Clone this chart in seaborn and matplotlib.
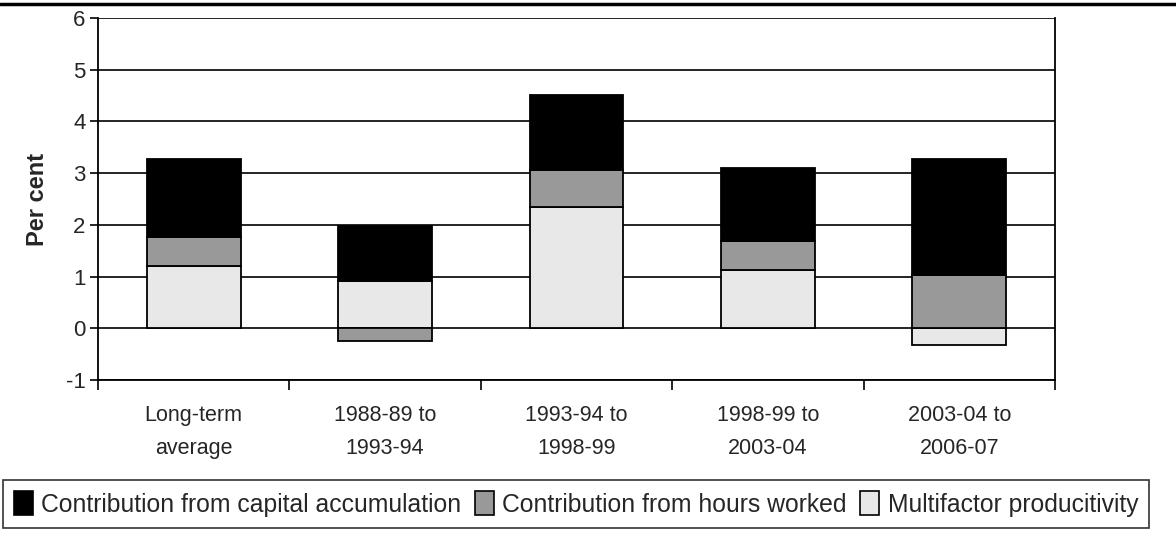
import numpy as np
import pandas as pd
import matplotlib
matplotlib.use("Agg")
import matplotlib.pyplot as plt
import seaborn as sns
from matplotlib.patches import Patch

# data
periods = ["Long-term\naverage", "1988-89 to\n1993-94", "1993-94 to\n1998-99",
           "1998-99 to\n2003-04", "2003-04 to\n2006-07"]
mfp = [1.20, 0.92, 2.35, 1.12, -0.33]
hours = [0.56, -0.25, 0.72, 0.57, 1.04]
capital = [1.51, 1.06, 1.44, 1.40, 2.23]

series_names = ["Contribution from capital accumulation",
                "Contribution from hours worked",
                "Multifactor producitivity"]
series_colors = ["#000000", "#999999", "#e8e8e8"]

sns.set_theme(style="white")
plt.rcParams["font.family"] = ["Liberation Sans", "DejaVu Sans"]
plt.rcParams["axes.unicode_minus"] = False

fig = plt.figure(figsize=(11.76, 5.38), dpi=100)
ax = fig.add_axes([98 / 1176, 1 - 380 / 538, (1055 - 98) / 1176, (380 - 18) / 538])

# stack positives upward, negatives downward (MFP, hours, capital)
pos_base = np.zeros(len(periods))
neg_base = np.zeros(len(periods))
stack = [(mfp, series_colors[2]), (hours, series_colors[1]), (capital, series_colors[0])]
for vals, col in stack:
    vals = np.array(vals)
    bottoms = np.where(vals >= 0, pos_base, neg_base)
    df = pd.DataFrame({"period": periods, "value": vals})
    sns.barplot(data=df, x="period", y="value", ax=ax, color=col, saturation=1,
                width=0.49, bottom=bottoms, edgecolor="black", linewidth=1.3,
                errorbar=None, zorder=3)
    pos_base = pos_base + np.where(vals >= 0, vals, 0)
    neg_base = neg_base + np.where(vals < 0, vals, 0)

ax.set_ylim(-1, 6)
ax.set_xlim(-0.5, len(periods) - 0.5)
ax.set_yticks(range(-1, 7))
ax.yaxis.grid(True, color="black", linewidth=1.2, zorder=0)
ax.set_axisbelow(True)
ax.set_xlabel("")
ax.set_ylabel("Per cent", fontsize=17, fontweight="bold", labelpad=12)

for s in ["left", "right", "bottom"]:
    ax.spines[s].set_visible(True)
    ax.spines[s].set_color("black")
    ax.spines[s].set_linewidth(1.3)
ax.spines["top"].set_visible(False)

ax.tick_params(axis="y", which="major", length=6, width=1.2, color="black",
               direction="out", labelsize=16, pad=3, left=True)
ax.tick_params(axis="x", which="major", length=0, labelsize=15.5, pad=18)
ax.set_xticks(np.arange(-0.5, len(periods)), minor=True)
ax.tick_params(axis="x", which="minor", length=7, width=1.2, color="black",
               direction="out", bottom=True)
for lbl in ax.get_xticklabels():
    lbl.set_linespacing(1.75)

# top rule across the figure
fig.add_artist(plt.Line2D([0, 1], [1 - 4 / 538, 1 - 4 / 538], color="black",
                          linewidth=2.5, transform=fig.transFigure))

handles = [Patch(facecolor=c, edgecolor="black", linewidth=1.2) for c in series_colors]
leg = fig.legend(handles, series_names, loc="center left",
                 bbox_to_anchor=(3 / 1176, 1 - 504 / 538), ncol=3, fontsize=17.8,
                 frameon=True, fancybox=False, handlelength=0.75, handleheight=1.1,
                 handletextpad=0.35, columnspacing=0.55, borderpad=0.45,
                 borderaxespad=0)
leg.get_frame().set_edgecolor("black")
leg.get_frame().set_linewidth(1.2)

fig.savefig("out.png", dpi=100)
